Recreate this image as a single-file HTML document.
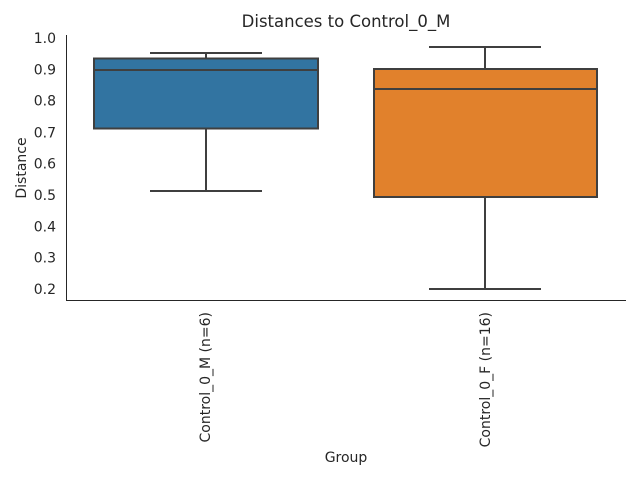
<!DOCTYPE html>
<html><head><style>body{margin:0;background:#fff}</style></head><body>
<svg width="640" height="480" xmlns="http://www.w3.org/2000/svg" font-family="DejaVu Sans, Liberation Sans, sans-serif" fill="#262626">
<rect width="640" height="480" fill="#fff"/>
<text x="346" y="27" font-size="16.5" text-anchor="middle">Distances to Control_0_M</text>
<g font-size="14" text-anchor="end">
<text x="56" y="43">1.0</text><text x="56" y="74.5">0.9</text><text x="56" y="105.5">0.8</text><text x="56" y="137.5">0.7</text>
<text x="56" y="168.5">0.6</text><text x="56" y="200">0.5</text><text x="56" y="231.5">0.4</text><text x="56" y="262.5">0.3</text><text x="56" y="294">0.2</text>
</g>
<text transform="translate(26,168) rotate(-90)" font-size="14" text-anchor="middle">Distance</text>
<text x="346" y="462" font-size="14" text-anchor="middle">Group</text>
<text transform="translate(210,312) rotate(-90)" font-size="14" text-anchor="end">Control_0_M (n=6)</text>
<text transform="translate(490,312) rotate(-90)" font-size="14" text-anchor="end">Control_0_F (n=16)</text>
<line x1="66.5" y1="35" x2="66.5" y2="300.5" stroke="#262626" stroke-width="1"/>
<line x1="66" y1="300.5" x2="626" y2="300.5" stroke="#262626" stroke-width="1"/>
<g stroke="#3f3f3f" stroke-width="2" fill="none">
<rect x="94" y="58.5" width="224" height="70" fill="#3274a1"/>
<line x1="94" y1="70" x2="318" y2="70"/>
<line x1="206" y1="58.5" x2="206" y2="53"/><line x1="150" y1="53" x2="262" y2="53"/>
<line x1="206" y1="128.5" x2="206" y2="191"/><line x1="150" y1="191" x2="262" y2="191"/>
<rect x="374" y="69" width="223" height="128" fill="#e1812c"/>
<line x1="374" y1="89" x2="597" y2="89"/>
<line x1="485" y1="69" x2="485" y2="47"/><line x1="429" y1="47" x2="541" y2="47"/>
<line x1="485" y1="197" x2="485" y2="289"/><line x1="429" y1="289" x2="541" y2="289"/>
</g>
</svg>
</body></html>
